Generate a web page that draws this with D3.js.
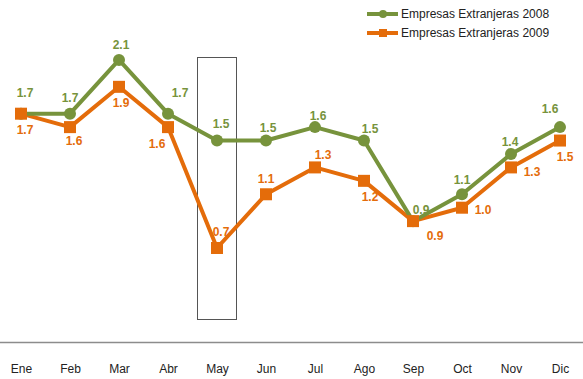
<!DOCTYPE html>
<html>
<head>
<meta charset="utf-8">
<script src="https://cdn.jsdelivr.net/npm/d3@7"></script>
<style>
  html, body { margin: 0; padding: 0; background: #fff; }
  svg { display: block; font-family: "Liberation Sans", Arial, sans-serif; }
</style>
</head>
<body>
<svg id="chart" width="583" height="379"></svg>
<script>
// Monthly values
const months = ["Ene", "Feb", "Mar", "Abr", "May", "Jun", "Jul", "Ago", "Sep", "Oct", "Nov", "Dic"];
const values2008 = [1.7, 1.7, 2.1, 1.7, 1.5, 1.5, 1.6, 1.5, 0.9, 1.1, 1.4, 1.6];
const values2009 = [1.7, 1.6, 1.9, 1.6, 0.7, 1.1, 1.3, 1.2, 0.9, 1.0, 1.3, 1.5];
const seriesNames = ["Empresas Extranjeras 2008", "Empresas Extranjeras 2009"];
const highlightMonth = "May";

// Label placement (dx, dy from the point) so labels avoid the lines
const labelOffsets2008 = [[4,-21],[0,-16],[2,-15],[12,-21],[4,-17],[2,-13],[3,-11],[6,-12],[8,-11],[0,-14],[-1,-12],[-10,-18]];
const labelOffsets2009 = [[4,16],[4,14],[2,16],[-11,17],[4,-16],[0,-15],[8,-13],[6,16],[22,15],[21,2],[21,4],[5,16]];

const green = "#77933C";
const orange = "#E46C0A";

const svg = d3.select("#chart");

const x = d3.scalePoint().domain(months).range([21, 560]);
const y = d3.scaleLinear().domain([0, 2.5]).range([342, 6.25]);

// Baseline axis with month labels
const xAxis = d3.axisBottom(x).tickSize(0).tickPadding(0);
const gx = svg.append("g").attr("transform", `translate(0,${y(0)})`).call(xAxis);
gx.select(".domain").remove();
gx.selectAll("text")
  .attr("dy", 0).attr("y", 31)
  .attr("font-size", 12).attr("font-family", "'Liberation Sans', Arial, sans-serif")
  .attr("fill", "#222");
svg.append("line")
  .attr("x1", 0).attr("x2", 583)
  .attr("y1", y(0) + 0.5).attr("y2", y(0) + 0.5)
  .attr("stroke", "#8c8c8c").attr("stroke-width", 1.5);

// Highlight frame around one month
svg.append("rect")
  .attr("x", x(highlightMonth) - 19.5).attr("y", 57.5)
  .attr("width", 39).attr("height", 262)
  .attr("fill", "none").attr("stroke", "#555").attr("stroke-width", 1);

const line = d3.line().x((d, i) => x(months[i])).y(d => y(d));

// 2009 series
svg.append("path").datum(values2009)
  .attr("d", line).attr("fill", "none")
  .attr("stroke", orange).attr("stroke-width", 4).attr("stroke-linejoin", "round");
// 2008 series
svg.append("path").datum(values2008)
  .attr("d", line).attr("fill", "none")
  .attr("stroke", green).attr("stroke-width", 4).attr("stroke-linejoin", "round");

svg.append("g").selectAll("circle").data(values2008).join("circle")
  .attr("cx", (d, i) => x(months[i])).attr("cy", d => y(d))
  .attr("r", 6).attr("fill", green);

const sq = 12;
svg.append("g").selectAll("rect").data(values2009).join("rect")
  .attr("x", (d, i) => x(months[i]) - sq / 2).attr("y", d => y(d) - sq / 2)
  .attr("width", sq).attr("height", sq).attr("fill", orange);

// Value labels
function addLabels(vals, offsets, color) {
  svg.append("g").selectAll("text").data(vals).join("text")
    .attr("x", (d, i) => x(months[i]) + offsets[i][0])
    .attr("y", (d, i) => y(d) + offsets[i][1])
    .attr("dy", "0.35em")
    .attr("text-anchor", "middle")
    .attr("font-size", 12).attr("font-weight", "bold")
    .attr("fill", color)
    .text(d => d3.format(".1f")(d));
}
addLabels(values2008, labelOffsets2008, green);
addLabels(values2009, labelOffsets2009, orange);

// Legend
const legend = svg.append("g");
[green, orange].forEach((c, i) => {
  const ly = 14 + i * 19;
  legend.append("line").attr("x1", 367).attr("x2", 398).attr("y1", ly).attr("y2", ly)
    .attr("stroke", c).attr("stroke-width", 4);
  if (i === 0) {
    legend.append("circle").attr("cx", 383).attr("cy", ly).attr("r", 4).attr("fill", c);
  } else {
    legend.append("rect").attr("x", 379).attr("y", ly - 4).attr("width", 8).attr("height", 8).attr("fill", c);
  }
  legend.append("text").attr("x", 401).attr("y", ly).attr("dy", "0.35em")
    .attr("font-size", 12).attr("fill", "#222").text(seriesNames[i]);
});
</script>
</body>
</html>
